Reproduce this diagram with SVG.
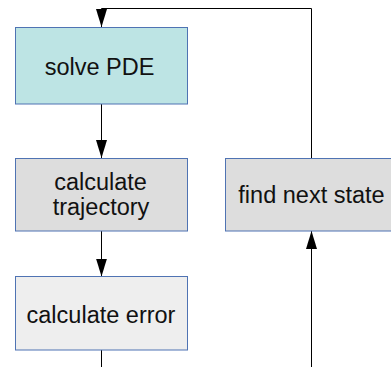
<svg xmlns="http://www.w3.org/2000/svg" width="391" height="367" viewBox="0 0 391 367">
<style>
.box{stroke:#4f73b3;stroke-width:1}
.t{font-family:"Liberation Sans",Arial,sans-serif;font-size:23.5px;fill:#111;text-anchor:middle}
.c{stroke:#000;stroke-width:1;fill:none}
</style>
<defs>
<marker id="ah" markerWidth="18" markerHeight="11" refX="18" refY="5.5" orient="auto" markerUnits="userSpaceOnUse" viewBox="0 0 18 11">
<path d="M0,0 L18,5.5 L0,11 Z" fill="#000"/>
</marker>
</defs>
<rect width="391" height="367" fill="#fff"/>
<g id="connectors">
<path class="c" d="M311.5,158.5 V8.5 H101.5 V27" marker-end="url(#ah)"/>
<path class="c" d="M101.5,104 V158" marker-end="url(#ah)"/>
<path class="c" d="M101.5,231 V276.5" marker-end="url(#ah)"/>
<path class="c" d="M101.5,350 V367"/>
<path class="c" d="M311.5,367 V231" marker-end="url(#ah)"/>
</g>
<g id="solve">
<rect class="box" x="15.5" y="27.5" width="172" height="76.5" fill="#bde4e4"/>
<text class="t" x="99.5" y="75">solve PDE</text>
</g>
<g id="trajectory">
<rect class="box" x="15.5" y="158.5" width="172" height="72.5" fill="#dddddd"/>
<text class="t" x="100.5" y="190">calculate</text>
<text class="t" x="101" y="215">trajectory</text>
</g>
<g id="next">
<rect class="box" x="225.5" y="158.5" width="175" height="72.5" fill="#dddddd"/>
<text class="t" x="311.5" y="203">find next state</text>
</g>
<g id="error">
<rect class="box" x="15.5" y="276.5" width="172" height="73.5" fill="#eeeeee"/>
<text class="t" x="101" y="323">calculate error</text>
</g>
</svg>
